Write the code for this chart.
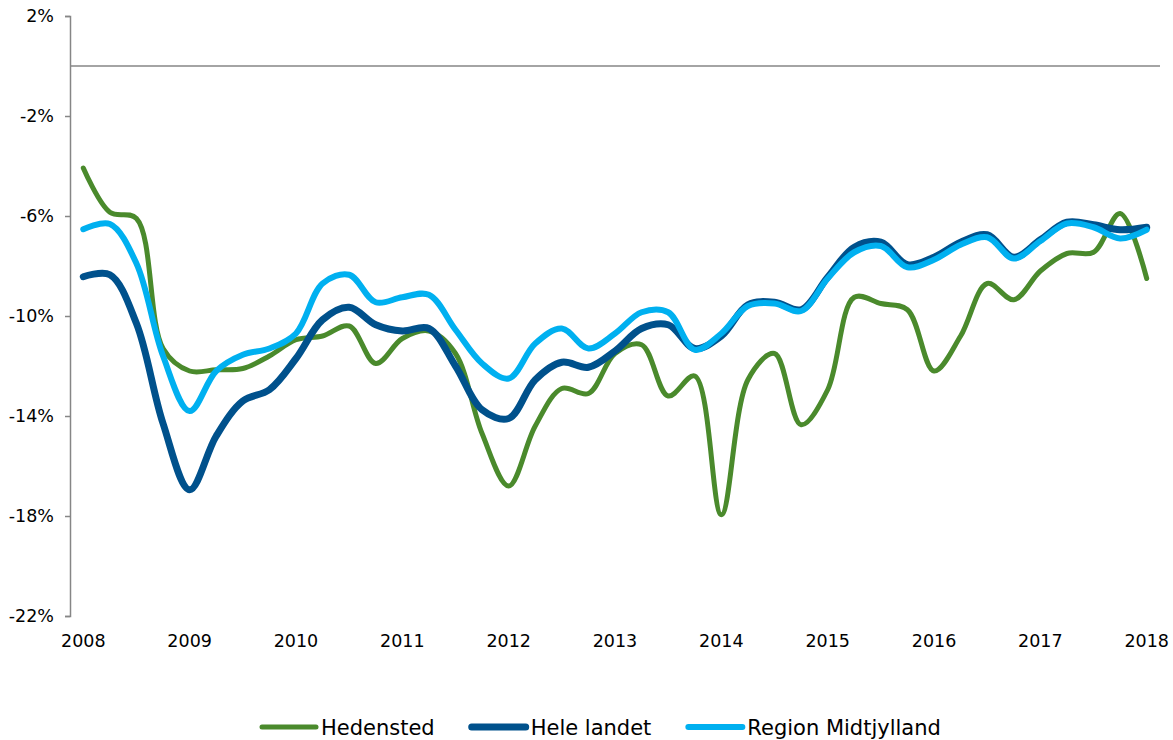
<!DOCTYPE html>
<html>
<head>
<meta charset="utf-8">
<script src="https://cdn.jsdelivr.net/npm/d3@7"></script>
<style>
  body { margin: 0; background: #fff; }
  text { font-family: Verdana, "DejaVu Sans", sans-serif; fill: #000; }
</style>
</head>
<body>
<div id="chart"></div>
<script>
// Quarterly categories 2008K1 .. 2018K1
const years = d3.range(2008, 2019);
const quarters = [];
years.forEach((y) => {
  [1, 2, 3, 4].forEach((q) => {
    if (y < 2018 || q === 1) quarters.push(`${y}K${q}`);
  });
});

const yTicks = [2, -2, -6, -10, -14, -18, -22];

// Values in percent, one per quarter
const hedensted = [
  -4.08, -5.85, -6.1, -11.3, -12.2, -12.15, -12.1, -11.6, -10.95, -10.8, -10.4,
  -11.9, -10.9, -10.6, -11.5, -14.7, -16.8, -14.4, -12.9, -13.1, -11.5, -11.15,
  -13.2, -12.4, -17.95, -12.55, -11.5, -14.35, -12.95, -9.25, -9.5, -9.75,
  -12.2, -10.8, -8.7, -9.35, -8.2, -7.5, -7.45, -5.9, -8.5,
];
const heleLandet = [
  -8.43, -8.35, -10.3, -14.3, -16.95, -14.8, -13.4, -12.95, -11.7, -10.15,
  -9.65, -10.35, -10.6, -10.5, -12.0, -13.75, -14.1, -12.55, -11.85, -12.05,
  -11.4, -10.5, -10.35, -11.3, -10.8, -9.55, -9.45, -9.75, -8.45, -7.25, -7.05,
  -7.95, -7.65, -7.05, -6.75, -7.65, -6.95, -6.25, -6.35, -6.55, -6.45,
];
const regionMidt = [
  -6.53, -6.32, -7.9, -11.6, -13.8, -12.2, -11.55, -11.3, -10.7, -8.7, -8.35,
  -9.45, -9.25, -9.15, -10.55, -11.9, -12.5, -11.1, -10.5, -11.3, -10.7, -9.85,
  -9.85, -11.35, -10.7, -9.6, -9.5, -9.8, -8.5, -7.45, -7.2, -8.05, -7.75,
  -7.15, -6.85, -7.7, -7.0, -6.3, -6.45, -6.9, -6.55,
];

const series = [
  { name: "Hedensted", values: hedensted, color: "#4a8a2c", width: 5 },
  { name: "Hele landet", values: heleLandet, color: "#00518c", width: 7 },
  { name: "Region Midtjylland", values: regionMidt, color: "#00b0f0", width: 6 },
];

const width = 1173,
  height = 740;
const margin = { top: 16, right: 13, bottom: 124, left: 70 };
const axisColor = "#868686";

const svg = d3
  .select("#chart")
  .append("svg")
  .attr("width", width)
  .attr("height", height);

const xScale = d3
  .scaleBand()
  .domain(quarters)
  .range([margin.left, width - margin.right]);

const xPos = (q) => xScale(q) + xScale.bandwidth() / 2;

const yScale = d3
  .scaleLinear()
  .domain([-22, 2])
  .range([height - margin.bottom, margin.top]);

// Zero line (category axis)
svg
  .append("line")
  .attr("x1", margin.left)
  .attr("x2", width - margin.right)
  .attr("y1", yScale(0))
  .attr("y2", yScale(0))
  .attr("stroke", axisColor)
  .attr("stroke-width", 1.5);

// Y axis
const yAxis = svg
  .append("g")
  .attr("transform", `translate(${margin.left},0)`)
  .call(
    d3
      .axisLeft(yScale)
      .tickValues(yTicks)
      .tickSize(5)
      .tickPadding(11)
      .tickFormat((d) => `${d}%`)
  );
yAxis.select(".domain").attr("stroke", axisColor).attr("stroke-width", 1.5);
yAxis.selectAll(".tick line").attr("stroke", axisColor).attr("stroke-width", 1.5);
yAxis
  .selectAll(".tick text")
  .style("font-size", "17.5px")
  .style("font-family", 'Verdana, "DejaVu Sans", sans-serif');

// X labels (one per year, at first quarter)
svg
  .append("g")
  .selectAll("text")
  .data(years)
  .enter()
  .append("text")
  .attr("x", (d) => xPos(`${d}K1`))
  .attr("y", 647)
  .attr("text-anchor", "middle")
  .style("font-size", "17.5px")
  .text((d) => d);

// Lines
const line = d3
  .line()
  .x((d, i) => xPos(quarters[i]))
  .y((d) => yScale(d))
  .curve(d3.curveCatmullRom.alpha(0.5));

series.forEach((s) => {
  svg
    .append("path")
    .datum(s.values)
    .attr("fill", "none")
    .attr("stroke", s.color)
    .attr("stroke-width", s.width)
    .attr("stroke-linejoin", "round")
    .attr("stroke-linecap", "round")
    .attr("d", line);
});

// Legend
const legend = svg.append("g");
let lx = 262;
const ly = 727;
series.forEach((s) => {
  legend
    .append("line")
    .attr("x1", lx)
    .attr("x2", lx + 54)
    .attr("y1", ly)
    .attr("y2", ly)
    .attr("stroke", s.color)
    .attr("stroke-width", s.width)
    .attr("stroke-linecap", "round");
  const t = legend
    .append("text")
    .attr("x", lx + 59)
    .attr("y", ly + 7.5)
    .style("font-size", "21px")
    .text(s.name);
  lx = lx + 59 + t.node().getComputedTextLength() + 37;
});
</script>
</body>
</html>
